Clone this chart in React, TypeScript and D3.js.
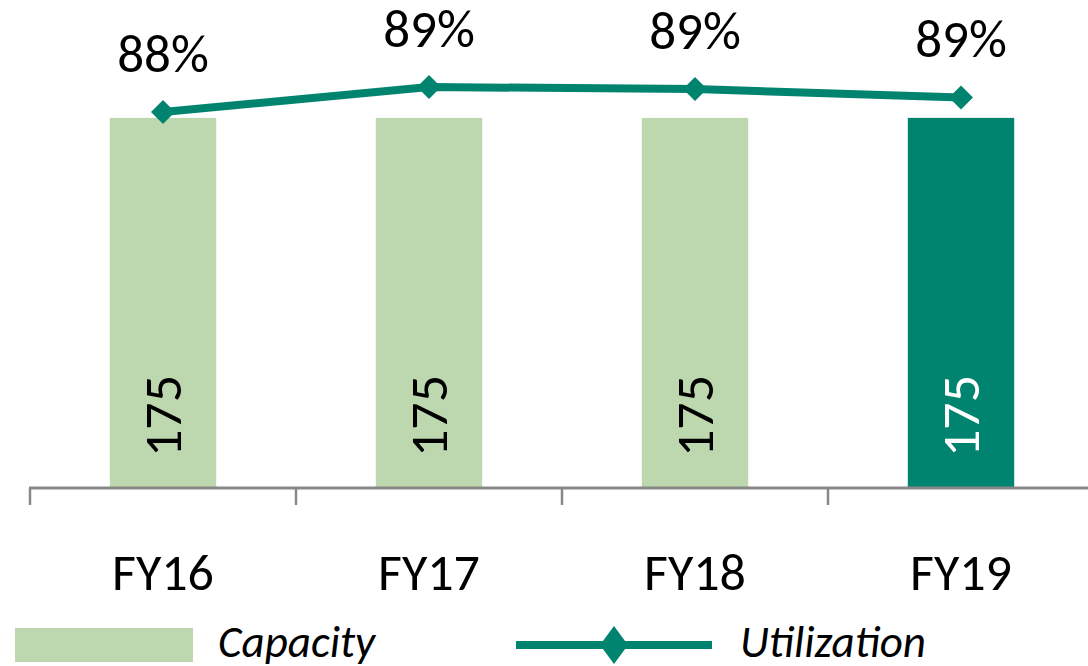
import { useEffect, useRef } from "react";
import * as d3 from "d3";

// chart data
const categories = ["FY16", "FY17", "FY18", "FY19"];
const capacity = [175, 175, 175, 175];
const utilization = [88.2, 89.4, 89.3, 88.9];

const LIGHT = "#bdd7ae";
const TEAL = "#00846f";
const FONT = "Calibri, Carlito, 'Open Sans', sans-serif";

const W = 1088;
const H = 666;

const App = () => {
  const ref = useRef<SVGSVGElement>(null);

  useEffect(() => {
    if (!ref.current) return;
    const svg = d3.select(ref.current);
    svg.selectAll("*").remove();

    const x = d3
      .scaleBand<string>()
      .domain(categories)
      .range([30, 1094])
      .paddingInner(0.6)
      .paddingOuter(0.3);

    const yBar = d3.scaleLinear().domain([0, 200]).range([488, 65]);
    const yLine = d3.scaleLinear().domain([84, 90]).range([199.5, 74.5]);

    const cx = (c: string) => (x(c) as number) + x.bandwidth() / 2;

    // bars
    svg
      .append("g")
      .selectAll("rect")
      .data(capacity)
      .join("rect")
      .attr("x", (_d, i) => x(categories[i]) as number)
      .attr("y", (d) => yBar(d))
      .attr("width", x.bandwidth())
      .attr("height", (d) => yBar(0) - yBar(d))
      .attr("fill", (_d, i) => (i === categories.length - 1 ? TEAL : LIGHT));

    // bar value labels (rotated)
    svg
      .append("g")
      .selectAll("text")
      .data(capacity)
      .join("text")
      .attr(
        "transform",
        (_d, i) => `translate(${cx(categories[i]) + 18},${yBar(0) - 31}) rotate(-90)`,
      )
      .attr("font-family", FONT)
      .attr("font-size", 54)
      .attr("fill", (_d, i) => (i === categories.length - 1 ? "#fff" : "#000"))
      .text((d) => d);

    // axis
    const axis = svg.append("g").attr("stroke", "#888888");
    axis
      .append("line")
      .attr("x1", 29)
      .attr("x2", W)
      .attr("y1", 488)
      .attr("y2", 488)
      .attr("stroke-width", 3);
    const step = x.step();
    const edges = d3.range(categories.length + 1).map((i) => 30 + i * step);
    axis
      .selectAll("line.tick")
      .data(edges)
      .join("line")
      .attr("class", "tick")
      .attr("x1", (d) => d)
      .attr("x2", (d) => d)
      .attr("y1", 488)
      .attr("y2", 505)
      .attr("stroke-width", 2.5);

    svg
      .append("g")
      .selectAll("text")
      .data(categories)
      .join("text")
      .attr("x", (d) => cx(d))
      .attr("y", 590)
      .attr("text-anchor", "middle")
      .attr("font-family", FONT)
      .attr("font-size", 52)
      .attr("fill", "#000")
      .text((d) => d);

    // utilization line
    const line = d3
      .line<number>()
      .x((_d, i) => cx(categories[i]))
      .y((d) => yLine(d));

    svg
      .append("path")
      .datum(utilization)
      .attr("d", line)
      .attr("fill", "none")
      .attr("stroke", TEAL)
      .attr("stroke-width", 8);

    svg
      .append("g")
      .selectAll("path")
      .data(utilization)
      .join("path")
      .attr("d", "M0,-12L12,0L0,12L-12,0Z")
      .attr("transform", (d, i) => `translate(${cx(categories[i])},${yLine(d)})`)
      .attr("fill", TEAL);

    svg
      .append("g")
      .selectAll("text")
      .data(utilization)
      .join("text")
      .attr("x", (_d, i) => cx(categories[i]))
      .attr("y", (d) => yLine(d) - 40)
      .attr("text-anchor", "middle")
      .attr("font-family", FONT)
      .attr("font-size", 53)
      .attr("fill", "#000")
      .text((d) => `${Math.round(d)}%`);

    // legend
    const lg = svg.append("g");
    lg.append("rect")
      .attr("x", 15)
      .attr("y", 628)
      .attr("width", 178)
      .attr("height", 34)
      .attr("fill", LIGHT);
    lg.append("text")
      .attr("x", 218)
      .attr("y", 657)
      .attr("font-family", FONT)
      .attr("font-style", "italic")
      .attr("font-size", 45)
      .text("Capacity");
    lg.append("line")
      .attr("x1", 516)
      .attr("x2", 712)
      .attr("y1", 645)
      .attr("y2", 645)
      .attr("stroke", TEAL)
      .attr("stroke-width", 8);
    lg.append("path")
      .attr("d", "M0,-19L14,0L0,19L-14,0Z")
      .attr("transform", "translate(614,645)")
      .attr("fill", TEAL);
    lg.append("text")
      .attr("x", 740)
      .attr("y", 657)
      .attr("font-family", FONT)
      .attr("font-style", "italic")
      .attr("font-size", 45)
      .text("Utilization");
  }, []);

  return (
    <svg
      ref={ref}
      width={W}
      height={H}
      style={{ position: "absolute", left: 0, top: 0, background: "#fff" }}
    />
  );
};

export default App;
